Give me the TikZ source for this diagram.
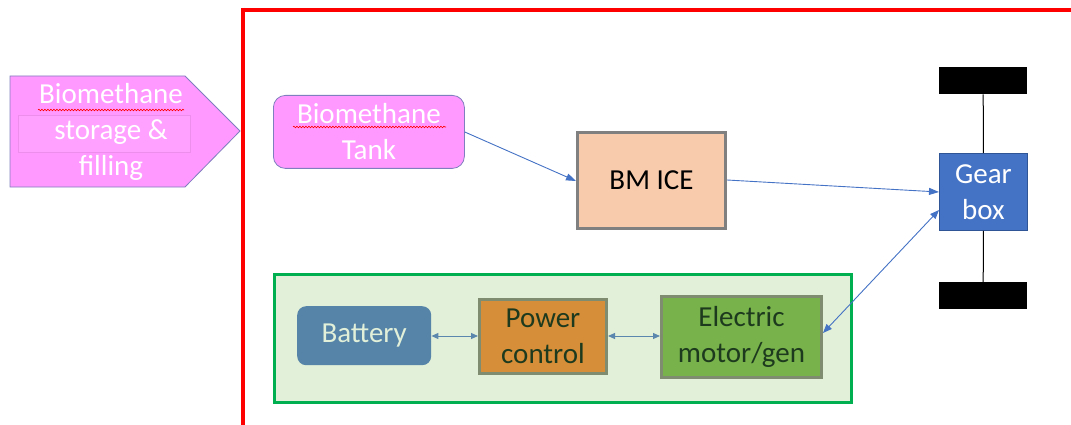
\documentclass[tikz,border=0pt]{standalone}
\usepackage{fontspec}
\setmainfont{Carlito}
\usetikzlibrary{arrows.meta,decorations.pathmorphing}
\definecolor{pinkf}{HTML}{FF99FF}
\definecolor{pinkb}{HTML}{7F7FBF}
\definecolor{iceF}{HTML}{F8CBAD}
\definecolor{greyB}{HTML}{808080}
\definecolor{gearF}{HTML}{4472C4}
\definecolor{gearB}{HTML}{2F5597}
\definecolor{contF}{HTML}{E2F0D9}
\definecolor{contB}{HTML}{00B050}
\definecolor{batF}{HTML}{5584A8}
\definecolor{pcF}{HTML}{D68E38}
\definecolor{motF}{HTML}{77B24A}
\definecolor{boxB}{HTML}{7F8C6F}
\definecolor{darkT}{HTML}{1E3A1E}
\definecolor{arrB}{HTML}{4472C4}
\definecolor{arrS}{HTML}{5B87AE}
\tikzset{
  txt/.style={font=\fontsize{29}{36}\selectfont, align=center, inner sep=0pt},
  blk/.style={txt, anchor=north west},
  flow/.style={draw=arrB, line width=0.9pt, -{Triangle[length=10pt,width=7pt]}},
  bidi/.style={draw=arrS, line width=1pt, {Triangle[length=7pt,width=6pt]}-{Triangle[length=7pt,width=6pt]}},
  squig/.style={draw=red, line width=0.6pt, decorate, decoration={snake, amplitude=0.8pt, segment length=3pt}},
}
\begin{document}
\begin{tikzpicture}[x=1pt,y=-1pt]
\useasboundingbox (0,0) rectangle (1071,425);
% red frame
\draw[red, line width=4pt] (243,10) -- (1080,10);
\draw[red, line width=4pt] (243,8) -- (243,430);
% pentagon arrow
\draw[fill=pinkf, draw=pinkb, line width=0.8pt] (10,76) -- (185,76) -- (240,131) -- (185,187) -- (10,187) -- cycle;
\fill[pinkf!92!white] (18,115) rectangle (190,152);
\draw[pinkf!93!black, line width=0.4pt] (18,115) rectangle (190,152);
\node[txt, text=white] (store) at (111,132) {Biomethane\\storage \&\\filling};
\draw[squig] (38,110) -- (184,110);
% tank
\node[blk, draw=pinkb, fill=pinkf, line width=0.8pt, rounded corners=12pt, minimum width=191pt, minimum height=73pt, text=white] (tank) at (273,95) {Biomethane\\Tank};
\draw[squig] (293,127) -- (446,127);
% BM ICE
\node[blk, draw=greyB, fill=iceF, line width=3pt, minimum width=148pt, minimum height=96pt] (ice) at (576,131) {BM ICE};
% gearbox and wheels
\node[blk, draw=gearB, fill=gearF, line width=0.8pt, minimum width=88pt, minimum height=77pt, text=white] (gear) at (939,153) {Gear\\box};
\node[blk, fill=black, minimum width=88pt, minimum height=27pt] (wtop) at (939,67) {};
\node[blk, fill=black, minimum width=88pt, minimum height=27pt] (wbot) at (939,282) {};
\draw[black, line width=1pt] (wtop.south) -- (gear.north);
\draw[black, line width=1pt] (gear.south) -- (wbot.north);
% electric container
\node[blk, draw=contB, fill=contF, line width=3pt, minimum width=577pt, minimum height=128pt] (cont) at (273,273) {};
\node[blk, fill=batF, rounded corners=9pt, minimum width=134pt, minimum height=59pt, text=contF] (bat) at (297,306) {Battery};
\node[blk, draw=boxB, fill=pcF, line width=3pt, minimum width=127pt, minimum height=74pt, text=darkT] (pc) at (478,298) {Power\\control};
\node[blk, draw=boxB, fill=motF, line width=3pt, minimum width=160pt, minimum height=81pt, text=darkT] (mot) at (660,295) {Electric\\motor/gen};
% connectors
\draw[flow] (tank.east |- 0,132) -- (ice.west |- 0,181);
\draw[flow] (ice.east |- 0,180) -- (gear.west |- 0,192);
\draw[bidi] (bat.east |- 0,336) -- (pc.west |- 0,336);
\draw[bidi] (pc.east |- 0,336) -- (mot.west |- 0,336);
\draw[draw=arrB, line width=0.9pt, {Triangle[length=9pt,width=7pt]}-{Triangle[length=9pt,width=7pt]}] (mot.east |- 0,333) -- (gear.west |- 0,210);
\end{tikzpicture}
\end{document}
